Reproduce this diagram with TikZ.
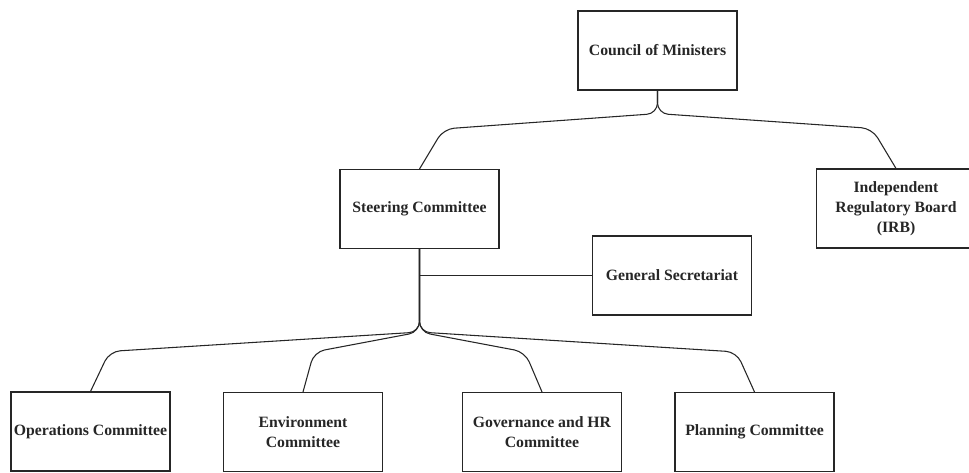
\documentclass[tikz,border=0pt]{standalone}
\usepackage{fontspec}
\setmainfont{Liberation Serif}
\usetikzlibrary{calc,positioning}

\tikzset{
  unit/.style={draw=black!85, line width=0.8pt, minimum width=119.25pt,
    minimum height=59.25pt, inner sep=0pt, align=center, text=black!85,
    font=\bfseries\fontsize{11.8}{14.8}\selectfont},
  link/.style={draw=black!85, line width=0.8pt, rounded corners=8pt}
}

\begin{document}
\begin{tikzpicture}[x=0.75pt, y=-0.75pt]
  \useasboundingbox (0,0) rectangle (969,473);

  % top level
  \node[unit] (council) at (657.5,50.5) {Council of Ministers};
  \node[unit] (steering) at (419.5,209) {Steering Committee};
  \node[unit] (irb) at (896,208.5) {Independent\\Regulatory Board\\(IRB)};
  \node[unit] (secretariat) at (672,275.5) {General Secretariat};

  % committees
  \node[unit] (operations) at (90.5,431.5) {Operations Committee};
  \node[unit] (environment) at (303,432) {Environment\\Committee};
  \node[unit] (governance) at (542,432) {Governance and HR\\Committee};
  \node[unit] (planning) at (754.5,432) {Planning Committee};

  \draw[link] (council.south) -- ++(0,23) -- ($(steering.north)+(24,-40)$) -- (steering.north);
  \draw[link] (council.south) -- ++(0,23) -- ($(irb.north)+(-24,-40)$) -- (irb.north);

  \draw[link] (secretariat.west) -- (secretariat.west -| steering.south);

  \draw[link] (steering.south) -- ++(0,83) -- ($(operations.north)+(19,-40)$) -- (operations.north);
  \draw[link] (steering.south) -- ++(0,83) -- ($(environment.north)+(11,-40)$) -- (environment.north);
  \draw[link] (steering.south) -- ++(0,83) -- ($(governance.north)+(-17,-40)$) -- (governance.north);
  \draw[link] (steering.south) -- ++(0,83) -- ($(planning.north)+(-18,-40)$) -- (planning.north);
\end{tikzpicture}
\end{document}
